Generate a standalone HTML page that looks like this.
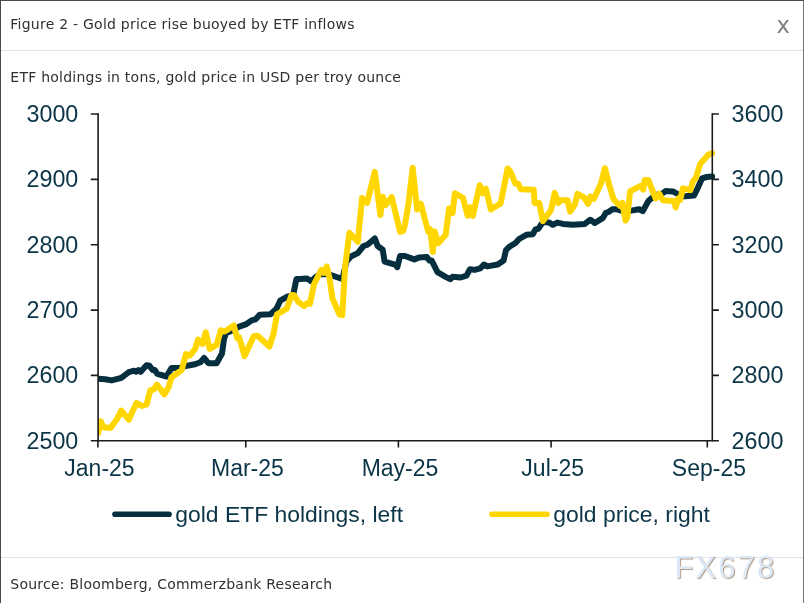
<!DOCTYPE html>
<html><head><meta charset="utf-8"><title>Figure 2</title>
<style>
html,body{margin:0;padding:0;background:#fff;}
body{width:804px;height:603px;position:relative;overflow:hidden;font-family:"Liberation Sans",Arial,sans-serif;}
.frame{position:absolute;left:0;top:0;width:802px;height:603px;border-left:1px solid #4a4a4a;border-top:1px solid #4a4a4a;border-right:1px solid #777;box-sizing:content-box;}
.sep{position:absolute;left:1px;width:802px;height:1px;background:#dfe3e8;}
.t{position:absolute;white-space:nowrap;color:#2f3136;font-family:"DejaVu Sans","Liberation Sans",sans-serif;font-size:14px;line-height:16px;letter-spacing:0.24px;}
.close{position:absolute;color:#808080;font-family:"DejaVu Sans",sans-serif;font-size:22.6px;line-height:24px;}
svg{position:absolute;left:0;top:0;}
.ax{font-family:"Liberation Sans",Arial,sans-serif;font-size:23.3px;fill:#0b3547;}
.ax2{font-family:"Liberation Sans",Arial,sans-serif;font-size:23px;fill:#0b3547;}
.lg{font-family:"Liberation Sans",Arial,sans-serif;font-size:22.9px;fill:#0b3547;}
.wm{position:absolute;font-size:31px;letter-spacing:2.1px;color:#dbe8f7;text-shadow:1px 1px 1px #b39a82;line-height:30px;}
</style></head><body>
<div class="frame"></div>
<div class="sep" style="top:50px"></div>
<div class="sep" style="top:557px"></div>
<div class="t" id="title" style="left:10.3px;top:16.3px;">Figure 2 - Gold price rise buoyed by ETF inflows</div>
<div class="close" id="close" style="left:776.5px;top:13px;">x</div>
<div class="t" id="sub" style="left:10.3px;top:69.3px;">ETF holdings in tons, gold price in USD per troy ounce</div>
<div class="t" id="src" style="left:10.3px;top:576.3px;">Source: Bloomberg, Commerzbank Research</div>
<div class="wm" id="wm" style="left:674.5px;top:552.5px;">FX678</div>
<svg width="804" height="603" viewBox="0 0 804 603">
<defs><clipPath id="plot"><rect x="98.1" y="100" width="617.2" height="345"/></clipPath></defs>
<g clip-path="url(#plot)">
<polyline points="98.2,378.7 105.1,379.3 111.6,380.4 121.3,377.8 128.8,372.2 134.2,370.7 136.4,371.8 138.5,370.0 140.7,371.8 146.5,365.3 149.3,365.7 152.6,370.0 154.7,370.0 157.3,373.9 166.6,376.5 171.5,367.9 179.5,367.9 187.1,365.7 195.0,364.3 200.4,362.2 204.1,357.9 208.4,363.2 216.6,363.2 222.0,353.5 224.1,338.4 226.3,333.0 232.7,330.2 239.2,326.6 245.7,324.4 252.2,320.1 255.4,319.5 259.7,314.7 270.5,314.3 276.5,308.7 280.2,300.7 287.8,296.4 293.1,295.3 296.4,279.1 300.0,279.0 307.0,278.5 311.3,281.3 315.5,277.1 319.7,274.2 328.2,274.2 342.3,279.0 346.5,261.6 350.8,256.5 357.8,253.1 363.5,246.0 367.7,244.6 374.8,238.4 377.6,246.0 382.7,249.7 384.6,261.6 395.9,264.9 397.3,267.2 400.1,255.9 405.0,256.0 414.3,259.4 418.9,257.6 427.0,257.1 429.4,260.6 431.7,260.6 437.5,272.2 445.6,276.8 450.3,279.2 452.6,276.8 460.7,277.5 466.5,275.7 470.0,269.2 474.6,269.9 480.4,268.3 483.9,264.5 487.4,266.4 497.8,264.5 503.6,260.6 506.0,250.1 509.4,246.7 515.5,243.0 519.1,239.0 526.4,234.8 532.8,234.3 535.5,229.4 538.3,228.8 542.8,222.1 549.2,222.6 552.9,224.8 557.4,222.6 562.9,223.9 572.9,224.8 584.8,223.9 590.3,219.7 594.8,223.0 603.0,217.9 605.8,212.9 608.5,212.0 612.2,209.3 617.3,209.3 622.8,211.1 628.2,211.1 639.2,209.3 642.8,211.1 648.3,201.1 655.6,194.7 661.1,194.4 665.6,191.1 672.9,191.4 682.1,196.5 693.9,195.6 697.6,188.3 702.1,178.3 706.7,177.0 712.2,176.5" fill="none" stroke="#052f3f" stroke-width="6" stroke-linejoin="round" stroke-linecap="round"/>
<polyline points="98.2,433.2 100.8,421.4 103.4,427.2 110.5,427.9 117.0,419.2 121.3,410.6 128.8,419.7 136.4,403.0 141.8,405.9 146.5,404.6 150.4,390.1 153.6,389.5 156.9,384.7 164.4,394.4 168.7,386.9 171.5,377.2 181.7,370.0 186.0,354.1 189.7,355.6 195.0,349.2 198.2,339.5 202.5,343.8 205.8,332.4 209.7,348.8 216.6,344.9 220.9,330.2 224.1,331.5 227.4,329.8 233.8,325.5 237.1,338.0 239.2,337.4 244.6,356.1 253.7,336.3 257.6,335.8 269.4,346.6 273.7,333.0 277.0,314.3 286.7,308.7 291.6,294.9 294.2,295.3 298.1,301.8 304.2,306.1 307.0,303.3 309.9,303.9 314.1,284.1 321.2,270.0 324.0,272.8 326.8,266.6 329.6,278.5 332.4,298.2 339.5,314.6 342.3,315.1 345.1,267.2 349.4,232.8 357.8,241.8 362.1,198.1 367.1,202.9 374.8,171.8 380.4,215.0 382.7,196.7 385.5,205.1 391.7,197.2 400.1,231.9 403.0,231.1 405.0,224.6 408.5,203.7 412.7,167.8 417.1,209.5 420.8,203.7 428.2,231.6 430.1,229.3 432.8,252.0 434.7,231.6 438.2,243.2 445.6,235.1 449.1,208.4 452.6,213.0 454.9,193.3 463.0,197.9 467.7,215.8 470.0,207.2 472.8,215.8 479.7,185.2 482.7,193.3 485.8,188.7 490.9,209.5 497.8,204.9 500.6,203.7 507.6,168.5 510.0,171.0 515.5,183.7 518.2,183.7 520.9,189.2 533.7,189.8 534.6,202.9 539.2,202.9 542.8,221.1 551.0,210.2 554.7,192.9 558.3,202.9 560.2,200.2 567.5,200.2 570.2,211.7 574.8,204.7 577.5,193.8 583.9,197.4 588.1,203.8 590.3,196.5 593.9,198.9 601.2,182.8 604.9,168.2 609.4,185.6 613.6,199.3 620.0,206.0 622.4,202.9 625.5,220.6 627.3,217.5 630.1,191.4 641.0,185.6 643.2,189.6 644.7,180.1 648.3,180.1 655.6,198.4 659.3,193.8 662.9,200.2 673.8,201.1 675.7,207.5 678.4,198.4 680.2,199.8 683.0,188.3 690.3,190.2 693.0,181.0 695.7,178.3 700.3,163.7 708.5,154.6 712.2,153.1" fill="none" stroke="#ffd600" stroke-width="6" stroke-linejoin="round" stroke-linecap="round"/>
</g>
<g stroke="#1c1c1c" stroke-width="1.6" fill="none">
<path d="M98.1,113.2V440.8H712.3V113.2"/>
<path d="M90.8,114.0H98.1M90.8,179.4H98.1M90.8,244.7H98.1M90.8,310.1H98.1M90.8,375.4H98.1M90.8,440.8H98.1"/>
<path d="M712.3,114.0H718.9M712.3,179.4H718.9M712.3,244.7H718.9M712.3,310.1H718.9M712.3,375.4H718.9M712.3,440.8H718.9"/>
<path d="M97.9,440.8V447.4M245.8,440.8V447.4M398.4,440.8V447.4M551.1,440.8V447.4M707.3,440.8V447.4"/>
</g>
<g class="ax" text-anchor="end"><text x="78.3" y="122.0">3000</text><text x="78.3" y="187.4">2900</text><text x="78.3" y="252.7">2800</text><text x="78.3" y="318.1">2700</text><text x="78.3" y="383.4">2600</text><text x="78.3" y="448.8">2500</text></g>
<g class="ax" text-anchor="start"><text x="731.6" y="122.0">3600</text><text x="731.6" y="187.4">3400</text><text x="731.6" y="252.7">3200</text><text x="731.6" y="318.1">3000</text><text x="731.6" y="383.4">2800</text><text x="731.6" y="448.8">2600</text></g>
<g class="ax2" text-anchor="middle"><text x="99.5" y="475.6">Jan-25</text><text x="247.4" y="475.6">Mar-25</text><text x="400.0" y="475.6">May-25</text><text x="552.7" y="475.6">Jul-25</text><text x="708.9" y="475.6">Sep-25</text></g>
<line x1="115" y1="514.2" x2="169" y2="514.2" stroke="#052f3f" stroke-width="5.6" stroke-linecap="round"/>
<text class="lg" x="175.3" y="521.8">gold ETF holdings, left</text>
<line x1="492" y1="514.2" x2="547" y2="514.2" stroke="#ffd600" stroke-width="5.6" stroke-linecap="round"/>
<text class="lg" x="553.3" y="521.8">gold price, right</text>
</svg>
</body></html>
